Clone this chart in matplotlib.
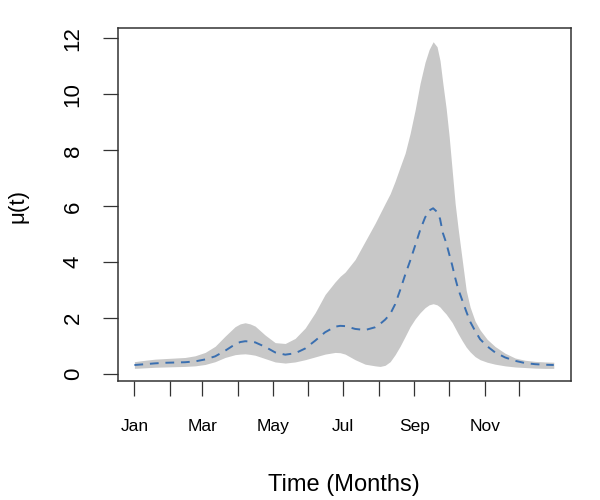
import matplotlib
matplotlib.use("Agg")
import matplotlib.pyplot as plt

plt.rcParams['font.family'] = ['Liberation Sans', 'DejaVu Sans']

# Day of year of each sample
days = [1, 10.3, 19.0, 27.6, 36.3, 45.0, 53.7, 62.4, 71.1, 79.7, 88.4, 92.8,
        97.1, 101.4, 105.8, 114.5, 123.2, 131.9, 140.5, 149.2, 157.9, 166.5,
        175.2, 179.6, 183.9, 192.6, 201.3, 210.0, 214.3, 218.6, 223.0, 227.3,
        231.6, 236.0, 240.3, 244.7, 249.0, 253.3, 256.8, 260.3, 263.7, 266.3,
        268.7, 271.6, 274.2, 276.8, 279.4, 282.0, 285.5, 289.0, 292.4, 296.7,
        301.1, 307.2, 314.1, 322.8, 331.5, 340.1, 348.8, 357.5, 365]

mean_mu = [0.33, 0.36, 0.39, 0.41, 0.42, 0.43, 0.46, 0.53, 0.64, 0.84, 1.07,
           1.15, 1.18, 1.17, 1.14, 0.98, 0.78, 0.70, 0.75, 0.92, 1.20, 1.50,
           1.70, 1.73, 1.72, 1.62, 1.58, 1.68, 1.80, 1.95, 2.15, 2.50, 3.00,
           3.55, 4.05, 4.60, 5.15, 5.60, 5.85, 5.93, 5.80, 5.55, 5.05, 4.70,
           4.30, 3.90, 3.45, 3.05, 2.65, 2.25, 1.88, 1.55, 1.25, 1.00, 0.78,
           0.60, 0.48, 0.40, 0.36, 0.34, 0.33]

upper_mu = [0.45, 0.50, 0.54, 0.56, 0.58, 0.60, 0.66, 0.78, 1.00, 1.36, 1.70,
            1.80, 1.84, 1.80, 1.72, 1.40, 1.13, 1.10, 1.28, 1.65, 2.20, 2.85,
            3.30, 3.50, 3.65, 4.10, 4.75, 5.40, 5.75, 6.10, 6.45, 6.90, 7.40,
            7.90, 8.60, 9.45, 10.40, 11.15, 11.60, 11.88, 11.70, 11.20, 10.40,
            9.50, 8.50, 7.30, 6.10, 5.20, 4.10, 3.00, 2.40, 1.90, 1.58, 1.25,
            0.99, 0.75, 0.58, 0.50, 0.46, 0.44, 0.43]

lower_mu = [0.21, 0.23, 0.25, 0.26, 0.27, 0.28, 0.30, 0.35, 0.45, 0.60, 0.70,
            0.72, 0.73, 0.71, 0.68, 0.56, 0.44, 0.40, 0.44, 0.52, 0.62, 0.72,
            0.78, 0.77, 0.72, 0.52, 0.36, 0.30, 0.28, 0.32, 0.45, 0.70, 1.00,
            1.35, 1.70, 1.98, 2.20, 2.38, 2.48, 2.52, 2.48, 2.40, 2.28, 2.15,
            2.00, 1.85, 1.65, 1.45, 1.20, 0.97, 0.80, 0.63, 0.52, 0.43, 0.36,
            0.30, 0.26, 0.24, 0.22, 0.21, 0.21]

month_days = [1, 32, 60, 91, 121, 152, 182, 213, 244, 274, 305, 335]
month_labels = ['Jan', '', 'Mar', '', 'May', '', 'Jul', '', 'Sep', '', 'Nov', '']
y_ticks = [0, 2, 4, 6, 8, 10, 12]

fig = plt.figure(figsize=(6, 5), dpi=100)
ax = fig.add_axes([117.7 / 600, 1 - 380.7 / 500, 453 / 600, 352.4 / 500])

ax.fill_between(days, lower_mu, upper_mu, color='#c8c8c8', linewidth=0)
ax.plot(days, mean_mu, color='#3a6fb0', linewidth=1.4,
        linestyle=(0, (4.5, 3.5)), solid_joinstyle='round')

ax.set_xlim(-13.5, 379.7)
ax.set_ylim(-0.23, 12.36)

ax.set_xticks(month_days)
ax.set_xticklabels(month_labels, fontsize=12.5)
ax.set_yticks(y_ticks)
ax.set_yticklabels([str(v) for v in y_ticks], fontsize=16, rotation=90,
                   va='center')

ax.tick_params(axis='x', direction='out', length=10.5, width=0.9,
               color='#333333', pad=17)
ax.tick_params(axis='y', direction='out', length=10.5, width=0.9,
               color='#333333', pad=14)
for s in ax.spines.values():
    s.set_linewidth(1.1)
    s.set_color('#333333')

fig.text(344 / 600, 1 - 485 / 500, 'Time (Months)', fontsize=17,
         ha='center', va='center')
fig.text(18 / 600, 1 - 206 / 500, 'μ(t)', fontsize=16, rotation=90,
         ha='center', va='center')

fig.savefig('out.png', dpi=100)
